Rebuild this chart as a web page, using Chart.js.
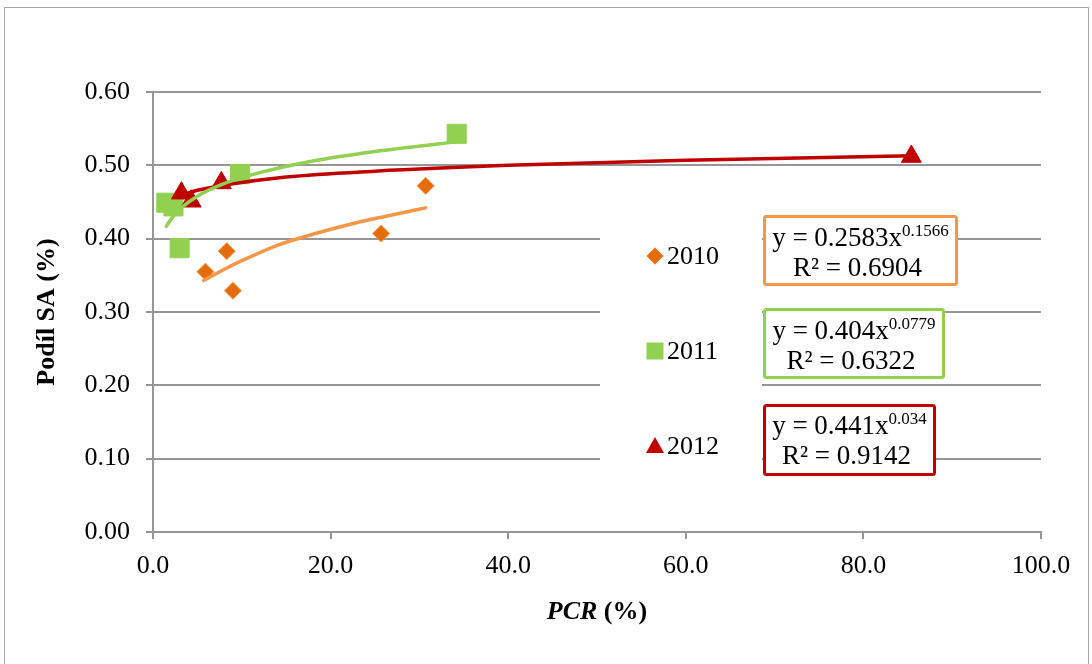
<!DOCTYPE html>
<html>
<head>
<meta charset="utf-8">
<title>PCR vs Podíl SA</title>
<script src="https://cdn.jsdelivr.net/npm/chart.js@4.4.1/dist/chart.umd.min.js"></script>
<style>
  body { margin: 0; background: #fff; }
  canvas { display: block; }
</style>
</head>
<body>
<canvas id="chart" width="1092" height="664"></canvas>
<script>
// data
const years = ['2010', '2011', '2012']

const pcr2010 = [5.9, 8.3, 9.0, 25.7, 30.7]
const sa2010 = [0.355, 0.383, 0.329, 0.407, 0.472]

const pcr2011 = [1.5, 2.3, 3.0, 9.8, 34.2]
const sa2011 = [0.449, 0.444, 0.387, 0.488, 0.543]

const pcr2012 = [3.2, 4.3, 7.7, 85.4]
const sa2012 = [0.462, 0.451, 0.476, 0.512]

// power trendlines as traced in the picture
const trendX2010 = [5.7, 8, 10, 14, 18, 22, 26, 30.7]
const trendY2010 = [0.343, 0.358, 0.370, 0.391, 0.406, 0.419, 0.430, 0.442]

const trendX2011 = [1.5, 2, 3, 5, 8, 12, 18, 25, 34.2]
const trendY2011 = [0.417, 0.426, 0.440, 0.458, 0.475, 0.490, 0.506, 0.519, 0.532]

const trendX2012 = [3.2, 5, 8, 15, 25, 40, 60, 85.4]
const trendY2012 = [0.459, 0.466, 0.473, 0.484, 0.492, 0.500, 0.507, 0.513]

const equations = ['y = 0.2583x', 'y = 0.404x', 'y = 0.441x']
const exponents = ['0.1566', '0.0779', '0.034']
const rSquared = ['R² = 0.6904', 'R² = 0.6322', 'R² = 0.9142']

const xTitle = 'PCR'
const xTitleUnit = ' (%)'
const yTitle = 'Podíl SA (%)'

const markerColors = ['#E46C0A', '#92D050', '#C00000']
const lineColors = ['#F79646', '#92D050', '#C00000']

const FONT = '"Liberation Serif", "Times New Roman", serif'

function toPoints(xs, ys) {
    return xs.map((x, i) => ({ x: x, y: ys[i] }))
}

function trendDataset(xs, ys, color, order) {
    return {
        data: toPoints(xs, ys),
        showLine: true,
        borderColor: color,
        borderWidth: 3.5,
        pointRadius: 0,
        fill: false,
        cubicInterpolationMode: 'monotone',
        borderCapStyle: 'round',
        order: order
    }
}

// legend + equation boxes + outer frame + axis titles
const decorations = {
    id: 'decorations',
    beforeDraw(chart) {
        const ctx = chart.ctx
        ctx.save()
        ctx.fillStyle = '#fff'
        ctx.fillRect(0, 0, chart.width, chart.height)
        ctx.strokeStyle = '#a6a6a6'
        ctx.lineWidth = 1
        ctx.strokeRect(4.5, 7.5, 1084, 670)
        ctx.restore()
    },
    beforeDatasetsDraw(chart) {
        const ctx = chart.ctx
        ctx.save()
        // white legend backdrop hides the grid
        ctx.fillStyle = '#fff'
        ctx.fillRect(600, 202, 162, 276)

        const boxes = [
            { l: 763, t: 215, r: 958, b: 286, base1: 246, base2: 276 },
            { l: 763, t: 308, r: 945, b: 379, base1: 339, base2: 369 },
            { l: 763, t: 404, r: 936, b: 476, base1: 434, base2: 464 }
        ]
        const legendY = [256, 351, 446]

        years.forEach((year, i) => {
            // legend marker
            const mx = 655
            const my = legendY[i]
            ctx.fillStyle = markerColors[i]
            ctx.beginPath()
            if (i === 0) {
                ctx.moveTo(mx, my - 8.5)
                ctx.lineTo(mx + 8.5, my)
                ctx.lineTo(mx, my + 8.5)
                ctx.lineTo(mx - 8.5, my)
            } else if (i === 1) {
                ctx.rect(mx - 8.5, my - 8.5, 17, 17)
            } else {
                ctx.moveTo(mx, my - 9)
                ctx.lineTo(mx + 9, my + 7)
                ctx.lineTo(mx - 9, my + 7)
            }
            ctx.closePath()
            ctx.fill()

            ctx.fillStyle = '#000'
            ctx.font = '26px ' + FONT
            ctx.textAlign = 'left'
            ctx.textBaseline = 'middle'
            ctx.fillText(year, 667, my + 1)

            // equation box
            const b = boxes[i]
            ctx.fillStyle = '#fff'
            ctx.strokeStyle = lineColors[i]
            ctx.lineWidth = 3
            ctx.beginPath()
            ctx.roundRect(b.l + 1.5, b.t + 1.5, b.r - b.l - 3, b.b - b.t - 3, 2)
            ctx.fill()
            ctx.stroke()

            const cx = (b.l + b.r) / 2
            ctx.fillStyle = '#000'
            ctx.textBaseline = 'alphabetic'
            ctx.font = '27px ' + FONT
            const w1 = ctx.measureText(equations[i]).width
            ctx.font = '17px ' + FONT
            const w2 = ctx.measureText(exponents[i]).width
            const left = cx - (w1 + w2) / 2
            ctx.textAlign = 'left'
            ctx.font = '27px ' + FONT
            ctx.fillText(equations[i], left, b.base1)
            ctx.font = '17px ' + FONT
            ctx.fillText(exponents[i], left + w1, b.base1 - 10)
            ctx.font = '27px ' + FONT
            ctx.textAlign = 'center'
            ctx.fillText(rSquared[i], cx - 3, b.base2)
        })

        // axis titles
        const area = chart.chartArea
        ctx.fillStyle = '#000'
        ctx.textBaseline = 'middle'
        ctx.font = 'italic bold 26px ' + FONT
        const tw1 = ctx.measureText(xTitle).width
        ctx.font = 'bold 26px ' + FONT
        const tw2 = ctx.measureText(xTitleUnit).width
        const tx = (area.left + area.right) / 2 - (tw1 + tw2) / 2
        ctx.textAlign = 'left'
        ctx.font = 'italic bold 26px ' + FONT
        ctx.fillText(xTitle, tx, 612)
        ctx.font = 'bold 26px ' + FONT
        ctx.fillText(xTitleUnit, tx + tw1, 612)

        ctx.translate(47, (area.top + area.bottom) / 2)
        ctx.rotate(-Math.PI / 2)
        ctx.textAlign = 'center'
        ctx.fillText(yTitle, 0, 0)
        ctx.restore()
    }
}

const tickFont = { family: FONT, size: 26 }

new Chart(document.getElementById('chart'), {
    type: 'scatter',
    data: {
        datasets: [
            trendDataset(trendX2010, trendY2010, lineColors[0], 0),
            trendDataset(trendX2011, trendY2011, lineColors[1], 1),
            trendDataset(trendX2012, trendY2012, lineColors[2], 2),
            {
                data: toPoints(pcr2012, sa2012),
                pointStyle: 'triangle',
                pointRadius: 11.5,
                pointBackgroundColor: markerColors[2],
                pointBorderColor: markerColors[2],
                pointBorderWidth: 1,
                order: 3
            },
            {
                data: toPoints(pcr2011, sa2011),
                pointStyle: 'rect',
                pointRadius: 13.5,
                pointBackgroundColor: markerColors[1],
                pointBorderColor: markerColors[1],
                pointBorderWidth: 1,
                order: 4
            },
            {
                data: toPoints(pcr2010, sa2010),
                pointStyle: 'rectRot',
                pointRadius: 8.5,
                pointBackgroundColor: markerColors[0],
                pointBorderColor: '#F79646',
                pointBorderWidth: 1,
                order: 5
            }
        ]
    },
    options: {
        responsive: false,
        devicePixelRatio: 1,
        animation: false,
        layout: { padding: { left: 0, right: 51, top: 92, bottom: 0 } },
        plugins: {
            legend: { display: false },
            tooltip: { enabled: false }
        },
        scales: {
            x: {
                type: 'linear',
                min: 0,
                max: 100,
                afterFit: (scale) => { scale.height = 132 },
                ticks: {
                    stepSize: 20,
                    color: '#000',
                    font: tickFont,
                    padding: 12,
                    maxRotation: 0,
                    callback: (v) => v.toFixed(1)
                },
                grid: {
                    drawOnChartArea: false,
                    color: '#969696',
                    lineWidth: 2,
                    tickLength: 7
                },
                border: { color: '#969696', width: 2 }
            },
            y: {
                min: 0,
                max: 0.6,
                afterFit: (scale) => { scale.width = 153 },
                ticks: {
                    stepSize: 0.1,
                    color: '#000',
                    font: tickFont,
                    padding: 16,
                    callback: (v) => v.toFixed(2)
                },
                grid: {
                    color: '#969696',
                    lineWidth: 2,
                    tickLength: 7
                },
                border: { color: '#969696', width: 2 }
            }
        }
    },
    plugins: [decorations]
})
</script>
</body>
</html>
